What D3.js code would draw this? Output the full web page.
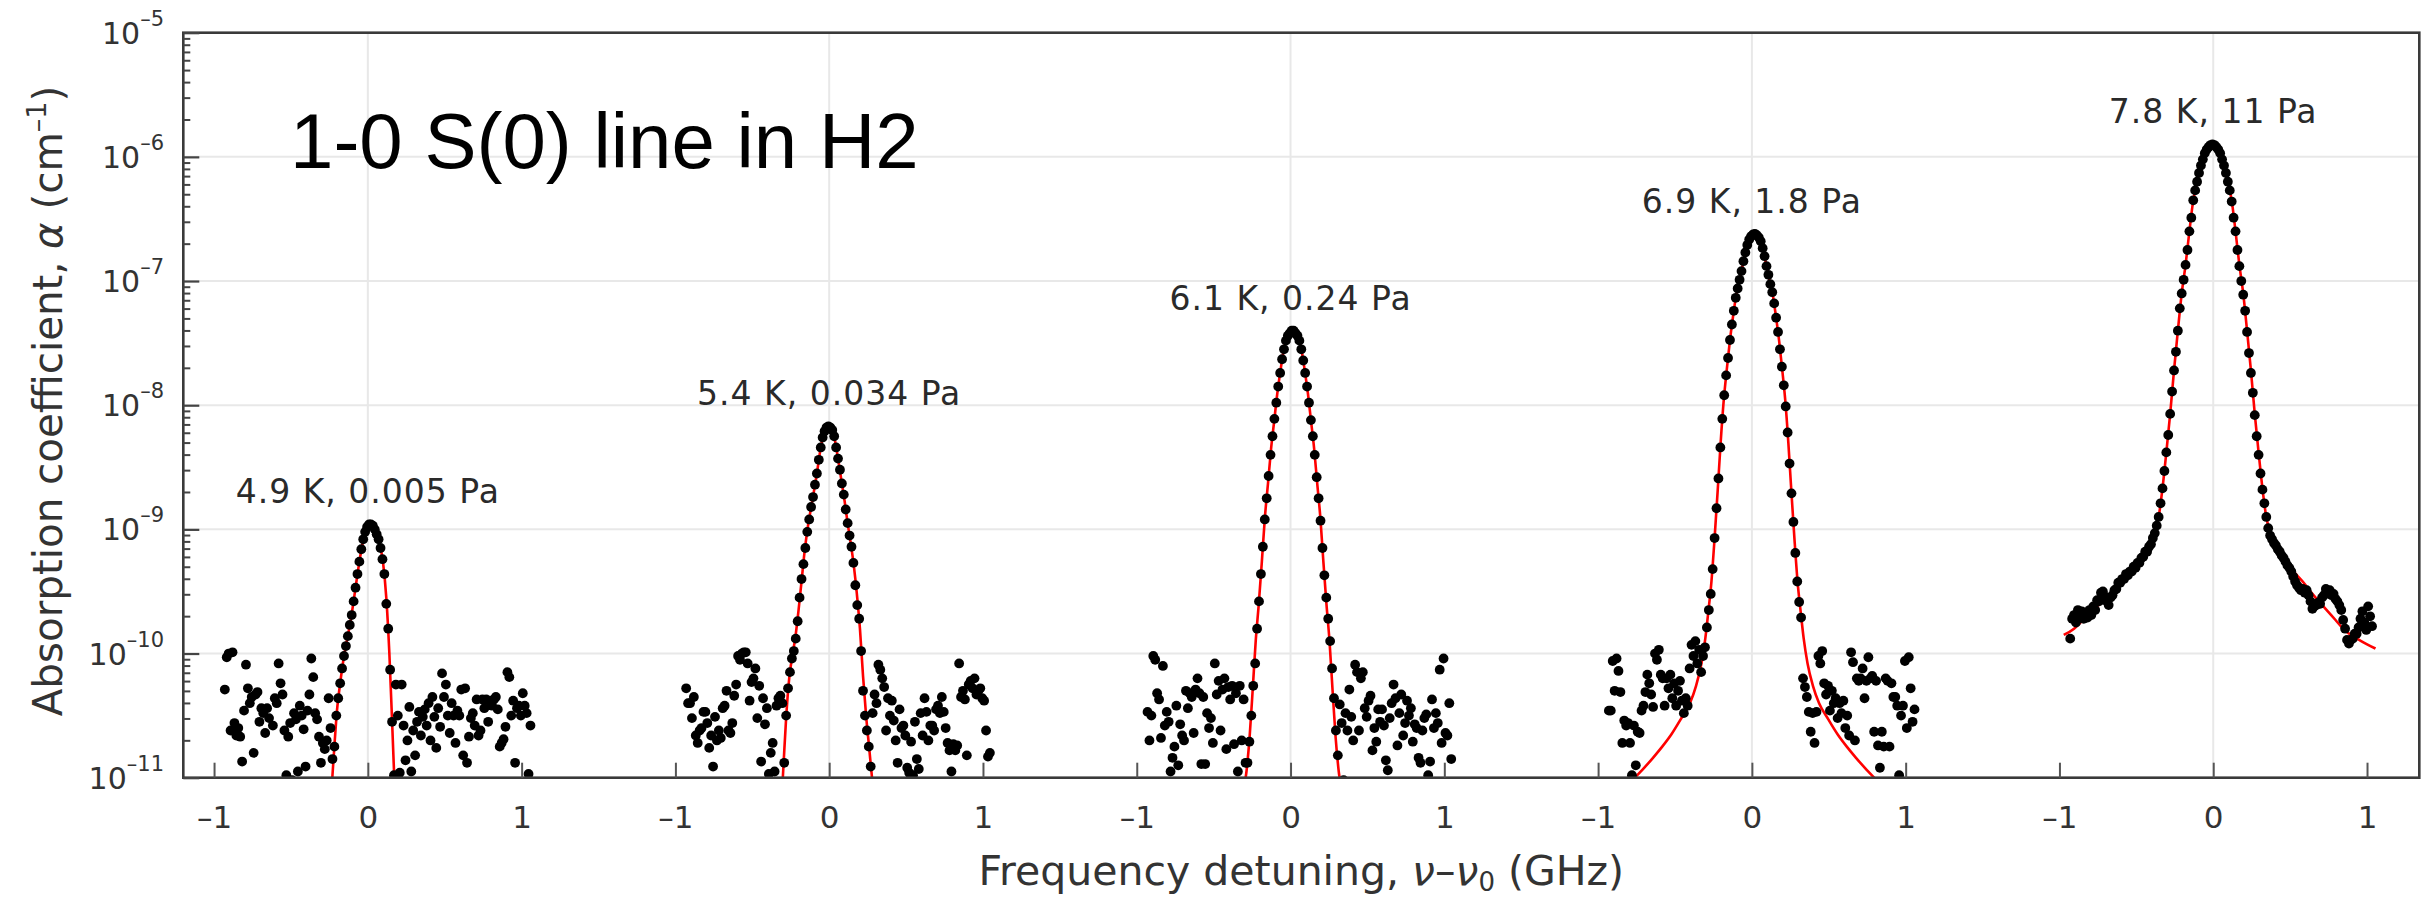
<!DOCTYPE html>
<html>
<head>
<meta charset="utf-8">
<script src="https://cdn.jsdelivr.net/npm/d3@7"></script>
<style>
html,body{margin:0;padding:0;background:#fff;overflow:hidden;}
svg{display:block;}
</style>
</head>
<body>
<svg id="chart" width="2435" height="901"></svg>
<script>
// ---------------- DATA ----------------
const chartTitle = "1-0 S(0) line in H2";
const panelLabels = ["4.9 K, 0.005 Pa", "5.4 K, 0.034 Pa", "6.1 K, 0.24 Pa", "6.9 K, 1.8 Pa", "7.8 K, 11 Pa"];
const panelOffsets = [0, 3, 6, 9, 12];          // GHz shift of each panel on the shared detuning axis
const peakLog10 = [-8.96, -8.17, -7.40, -6.62, -5.90]; // log10 of peak absorption (for label placement)
const detuningStart = -0.93;                     // GHz, first measured point in every panel
const detuningStep = 0.0125;                     // GHz between measured points
const xTickValues = [-1, 0, 1];
const xTickLabels = ["\u20131", "0", "1"];
const yTickExponents = [-11, -10, -9, -8, -7, -6, -5];

// measured absorption coefficient, log10(alpha / cm^-1)
const panel1 = [
-10.29,-10.03,-10.00,-10.62,-9.99,-10.56,-10.66,-10.60,-10.67,-10.87,
-10.46,-10.09,-10.28,-10.40,-10.35,-10.80,-10.33,-10.31,-10.55,-10.44,
-10.48,-10.64,-10.44,-10.52,-11.05,-10.58,-10.36,-10.40,-10.08,-10.24,
-10.33,-10.62,-10.98,-10.67,-10.56,-11.02,-10.48,-10.53,-10.95,-10.42,
-10.50,-10.61,-10.91,-10.46,-10.33,-10.04,-10.19,-10.48,-10.53,-10.67,
-10.88,-10.72,-10.77,-10.70,-10.36,-10.60,-10.85,-10.75,-10.50,-10.36,
-10.24,-10.12,-10.02,-9.94,-9.86,-9.77,-9.69,-9.58,-9.47,-9.36,
-9.26,-9.16,-9.08,-9.02,-8.98,-8.96,-8.96,-8.97,-9.00,-9.04,
-9.08,-9.15,-9.24,-9.36,-9.60,-9.80,-10.13,-10.55,-10.98,-10.25,
-10.50,-10.96,-10.25,-10.58,-10.86,-10.70,-10.43,-10.95,-10.62,-10.82,
-10.55,-10.47,-10.66,-10.51,-10.45,-10.58,-10.40,-10.70,-10.35,-10.51,
-10.76,-10.44,-10.59,-10.16,-10.35,-10.25,-10.50,-10.64,-10.40,-10.50,
-10.72,-10.46,-10.50,-10.29,-10.82,-10.28,-10.88,-10.67,-10.52,-10.48,
-10.58,-10.37,-10.66,-10.62,-10.37,-10.44,-10.37,-10.55,-10.38,-10.42,
-10.37,-10.35,-10.45,-10.75,-10.72,-10.69,-10.59,-10.15,-10.19,-10.50,
-10.38,-10.88,-10.44,-10.42,-10.50,-10.32,-10.42,-10.48,-10.97,-10.58];
const panel2 = [
-10.28,-10.40,-10.40,-10.52,-10.35,-10.66,-10.72,-10.62,-10.60,-10.47,
-10.47,-10.56,-10.76,-10.66,-10.91,-10.51,-10.70,-10.62,-10.68,-10.44,
-10.42,-10.30,-10.62,-10.64,-10.56,-10.34,-10.25,-10.02,-10.05,-10.00,
-9.99,-9.99,-10.08,-10.38,-10.23,-10.20,-10.12,-10.52,-10.26,-10.87,
-10.36,-10.57,-10.44,-10.97,-10.80,-10.72,-10.95,-10.42,-10.36,-10.34,
-10.40,-10.88,-10.50,-10.28,-10.15,-10.04,-9.98,-9.88,-9.74,-9.55,
-9.40,-9.28,-9.15,-9.02,-8.92,-8.82,-8.74,-8.64,-8.55,-8.44,
-8.34,-8.26,-8.21,-8.18,-8.17,-8.18,-8.20,-8.25,-8.34,-8.43,
-8.52,-8.63,-8.72,-8.84,-8.95,-9.05,-9.14,-9.27,-9.45,-9.61,
-9.72,-9.98,-10.30,-10.50,-10.62,-10.75,-10.91,-10.48,-10.33,-10.40,
-10.09,-10.13,-10.20,-10.27,-10.62,-10.36,-10.50,-10.38,-10.54,-10.70,
-10.88,-10.45,-10.60,-10.58,-10.66,-10.92,-10.96,-10.71,-10.98,-10.55,
-10.85,-10.93,-10.48,-10.66,-10.36,-10.47,-10.70,-10.58,-10.58,-10.62,
-10.45,-10.42,-10.48,-10.35,-10.47,-10.60,-10.72,-10.78,-10.95,-10.73,
-10.78,-10.74,-10.08,-10.35,-10.30,-10.37,-10.82,-10.25,-10.22,-10.28,
-10.20,-10.33,-10.30,-10.28,-10.36,-10.38,-10.62,-10.83,-10.80,-11.20];
const panel3 = [
-10.47,-10.70,-10.50,-10.02,-10.05,-10.32,-10.37,-10.68,-10.10,-10.58,
-10.47,-10.55,-10.95,-10.84,-10.75,-10.42,-10.90,-10.57,-10.66,-10.70,
-10.30,-10.44,-10.32,-10.35,-10.64,-10.29,-10.20,-10.32,-10.89,-10.35,
-10.89,-10.48,-10.60,-10.52,-10.72,-10.08,-10.33,-10.22,-10.62,-10.29,
-10.20,-10.77,-10.27,-10.37,-10.26,-10.73,-10.32,-10.95,-10.26,-10.70,
-10.37,-10.88,-10.88,-10.71,-10.50,-10.26,-10.08,-9.80,-9.58,-9.36,
-9.14,-8.92,-8.75,-8.57,-8.40,-8.25,-8.11,-7.98,-7.85,-7.74,
-7.63,-7.55,-7.48,-7.44,-7.42,-7.40,-7.40,-7.42,-7.44,-7.48,
-7.55,-7.64,-7.74,-7.85,-7.98,-8.12,-8.25,-8.40,-8.58,-8.75,
-8.93,-9.15,-9.37,-9.55,-9.72,-9.90,-10.12,-10.36,-10.62,-10.82,
-10.41,-10.56,-11.02,-10.48,-10.62,-10.29,-10.51,-10.70,-10.09,-10.15,
-10.62,-10.20,-10.15,-10.44,-10.51,-10.38,-10.34,-10.78,-10.60,-10.71,
-10.45,-10.55,-10.45,-10.58,-10.86,-10.94,-10.52,-10.40,-10.25,-10.36,
-10.74,-10.48,-10.33,-10.66,-10.56,-10.38,-10.50,-10.44,-10.71,-10.57,
-10.60,-10.84,-10.88,-10.62,-10.52,-10.49,-10.98,-10.87,-10.37,-10.60,
-10.48,-10.56,-10.13,-10.72,-10.04,-10.64,-10.66,-10.40,-10.85,-11.20];
const panel4 = [
-10.46,-10.46,-10.06,-10.30,-10.04,-10.14,-10.31,-10.72,-10.54,-10.58,
-10.56,-10.72,-10.98,-10.58,-10.90,-10.63,-10.64,-10.46,-10.42,-10.31,
-10.17,-10.24,-10.33,-10.43,-10.00,-10.05,-9.97,-10.17,-10.20,-10.42,
-10.20,-10.28,-10.17,-10.36,-10.24,-10.42,-10.30,-10.22,-10.38,-10.48,
-10.36,-10.42,-10.12,-9.93,-10.02,-9.90,-10.08,-9.97,-10.15,-10.02,
-9.95,-9.79,-9.65,-9.52,-9.32,-9.07,-8.83,-8.59,-8.34,-8.11,
-7.92,-7.76,-7.62,-7.475,-7.35,-7.24,-7.135,-7.06,-6.99,-6.92,
-6.84,-6.77,-6.71,-6.665,-6.64,-6.625,-6.62,-6.63,-6.65,-6.68,
-6.735,-6.80,-6.88,-6.95,-7.025,-7.09,-7.18,-7.295,-7.41,-7.55,
-7.69,-7.84,-8.01,-8.22,-8.47,-8.71,-8.94,-9.19,-9.42,-9.585,
-9.71,-10.20,-10.27,-10.35,-10.47,-10.63,-10.48,-10.72,-10.47,-10.02,
-10.08,-9.98,-10.24,-10.33,-10.26,-10.46,-10.30,-10.40,-10.36,-10.52,
-10.40,-10.48,-10.38,-10.60,-10.50,-10.66,-9.99,-10.07,-10.70,-10.20,
-10.22,-10.20,-10.12,-10.36,-10.22,-10.03,-10.20,-10.18,-10.63,-10.22,
-10.74,-10.92,-10.63,-10.75,-10.20,-10.22,-10.75,-10.24,-10.35,-10.35,
-10.42,-10.98,-10.50,-10.42,-10.06,-10.60,-10.03,-10.28,-10.55,-10.45];
const panel5 = [
-9.88,-9.72,-9.69,-9.75,-9.65,-9.70,-9.66,-9.72,-9.67,-9.71,
-9.65,-9.69,-9.62,-9.65,-9.57,-9.58,-9.51,-9.50,-9.54,-9.58,
-9.61,-9.55,-9.53,-9.49,-9.48,-9.43,-9.43,-9.40,-9.40,-9.36,
-9.37,-9.34,-9.34,-9.30,-9.31,-9.27,-9.27,-9.23,-9.22,-9.18,
-9.18,-9.14,-9.12,-9.07,-9.03,-8.97,-8.90,-8.79,-8.67,-8.53,
-8.38,-8.24,-8.07,-7.89,-7.72,-7.57,-7.40,-7.22,-7.10,-6.99,
-6.87,-6.75,-6.60,-6.49,-6.35,-6.27,-6.20,-6.13,-6.07,-6.02,
-5.97,-5.94,-5.92,-5.905,-5.90,-5.905,-5.92,-5.94,-5.97,-6.02,
-6.07,-6.13,-6.20,-6.27,-6.36,-6.49,-6.60,-6.75,-6.88,-7.00,
-7.11,-7.24,-7.41,-7.58,-7.74,-7.90,-8.08,-8.25,-8.40,-8.55,
-8.68,-8.79,-8.90,-8.99,-9.05,-9.08,-9.11,-9.13,-9.16,-9.18,
-9.21,-9.23,-9.26,-9.29,-9.31,-9.34,-9.38,-9.42,-9.45,-9.47,
-9.49,-9.48,-9.51,-9.49,-9.53,-9.58,-9.64,-9.62,-9.61,-9.59,
-9.60,-9.55,-9.53,-9.48,-9.50,-9.49,-9.53,-9.52,-9.56,-9.58,
-9.61,-9.65,-9.73,-9.80,-9.89,-9.92,-9.89,-9.88,-9.84,-9.84,
-9.79,-9.72,-9.66,-9.75,-9.81,-9.62,-9.70,-9.78];

// fitted line profiles: [detuning GHz, log10(alpha)]
const fit1 = [[-0.25,-11.4],[-0.23,-10.98],[-0.215,-10.7],[-0.2,-10.45],[-0.18,-10.24],[-0.16,-10.06],[-0.14,-9.92],[-0.12,-9.79],[-0.1,-9.64],[-0.08,-9.47],[-0.06,-9.30],[-0.04,-9.15],[-0.02,-9.03],[0,-8.97],[0.02,-8.955],[0.04,-8.98],[0.06,-9.04],[0.08,-9.13],[0.1,-9.28],[0.12,-9.55],[0.14,-10.0],[0.16,-10.62],[0.175,-11.1],[0.19,-11.5]];
const fit2 = [[-0.31,-11.2],[-0.295,-10.85],[-0.28,-10.52],[-0.26,-10.2],[-0.24,-10.02],[-0.22,-9.87],[-0.2,-9.66],[-0.18,-9.42],[-0.16,-9.18],[-0.14,-8.99],[-0.12,-8.84],[-0.1,-8.70],[-0.08,-8.55],[-0.06,-8.38],[-0.04,-8.25],[-0.02,-8.19],[0,-8.17],[0.02,-8.20],[0.04,-8.30],[0.06,-8.45],[0.08,-8.61],[0.1,-8.77],[0.12,-8.95],[0.14,-9.11],[0.16,-9.29],[0.18,-9.52],[0.2,-9.80],[0.22,-10.18],[0.24,-10.50],[0.26,-10.76],[0.28,-11.02],[0.3,-11.3]];
const fit3 = [[-0.3165,-11.5],[-0.2965,-11.05],[-0.2865,-10.95],[-0.2665,-10.68],[-0.2465,-10.30],[-0.2265,-9.90],[-0.2065,-9.60],[-0.1865,-9.26],[-0.1665,-8.90],[-0.1465,-8.63],[-0.1265,-8.35],[-0.1065,-8.13],[-0.0865,-7.91],[-0.0665,-7.73],[-0.0465,-7.57],[-0.0265,-7.46],[-0.0065,-7.42],[0.0135,-7.40],[0.0335,-7.42],[0.0535,-7.46],[0.0735,-7.57],[0.0935,-7.73],[0.1135,-7.91],[0.1335,-8.13],[0.1535,-8.35],[0.1735,-8.63],[0.1935,-8.90],[0.2135,-9.26],[0.2335,-9.60],[0.2535,-9.90],[0.2735,-10.30],[0.2935,-10.68],[0.3135,-10.95],[0.3235,-11.05],[0.3435,-11.5]];
const fit4 = [[-0.883,-11.14],[-0.753,-10.99],[-0.643,-10.84],[-0.583,-10.75],[-0.523,-10.65],[-0.463,-10.53],[-0.403,-10.40],[-0.363,-10.26],[-0.328,-10.08],[-0.303,-9.88],[-0.283,-9.66],[-0.263,-9.42],[-0.243,-9.08],[-0.223,-8.70],[-0.203,-8.30],[-0.183,-7.96],[-0.163,-7.71],[-0.143,-7.48],[-0.123,-7.29],[-0.103,-7.12],[-0.083,-7.01],[-0.063,-6.89],[-0.043,-6.775],[-0.023,-6.68],[-0.003,-6.635],[0.017,-6.62],[0.037,-6.635],[0.057,-6.68],[0.077,-6.775],[0.097,-6.89],[0.117,-7.01],[0.137,-7.12],[0.157,-7.29],[0.177,-7.48],[0.197,-7.71],[0.217,-7.96],[0.237,-8.30],[0.257,-8.70],[0.277,-9.08],[0.297,-9.42],[0.317,-9.66],[0.337,-9.88],[0.362,-10.08],[0.397,-10.26],[0.437,-10.40],[0.497,-10.53],[0.557,-10.65],[0.617,-10.75],[0.677,-10.84],[0.787,-10.99],[0.917,-11.14]];
const fit5 = [[-0.972,-9.85],[-0.905,-9.80],[-0.855,-9.74],[-0.805,-9.68],[-0.755,-9.62],[-0.705,-9.57],[-0.655,-9.51],[-0.605,-9.44],[-0.555,-9.37],[-0.505,-9.30],[-0.455,-9.21],[-0.405,-9.10],[-0.38,-9.02],[-0.355,-8.90],[-0.33,-8.67],[-0.305,-8.38],[-0.28,-8.07],[-0.255,-7.72],[-0.23,-7.40],[-0.205,-7.10],[-0.18,-6.87],[-0.155,-6.60],[-0.13,-6.35],[-0.105,-6.20],[-0.08,-6.07],[-0.055,-5.97],[-0.03,-5.92],[-0.005,-5.90],[0.02,-5.92],[0.045,-5.97],[0.07,-6.07],[0.095,-6.20],[0.12,-6.35],[0.145,-6.60],[0.17,-6.87],[0.195,-7.10],[0.22,-7.40],[0.245,-7.72],[0.27,-8.07],[0.295,-8.38],[0.32,-8.67],[0.345,-8.90],[0.37,-9.02],[0.395,-9.10],[0.445,-9.21],[0.495,-9.30],[0.545,-9.37],[0.595,-9.44],[0.645,-9.52],[0.695,-9.59],[0.745,-9.66],[0.795,-9.73],[0.845,-9.80],[0.895,-9.85],[0.962,-9.90],[1.055,-9.96]];

const panelValues = [panel1, panel2, panel3, panel4, panel5];
const panelFits = [fit1, fit2, fit3, fit4, fit5];

// ---------------- DRAWING ----------------
const W = 2435, H = 901;
const plot = {left: 183.3, right: 2419.3, top: 32.7, bottom: 777.7};
const FONT = "'DejaVu Sans', 'Noto Sans', sans-serif";

const x = d3.scaleLinear().domain([-1.2, 13.34]).range([plot.left, plot.right]);
const y = d3.scaleLog().domain([1e-11, 1e-5]).range([plot.bottom, plot.top]);

const svg = d3.select("#chart");
svg.append("rect").attr("width", W).attr("height", H).attr("fill", "#fff");

// gridlines
const grid = svg.append("g");
grid.selectAll("line.h").data(yTickExponents.slice(1, -1)).join("line")
  .attr("x1", plot.left).attr("x2", plot.right)
  .attr("y1", d => y(Math.pow(10, d))).attr("y2", d => y(Math.pow(10, d)))
  .attr("stroke", "#e8e8e8").attr("stroke-width", 2);
grid.selectAll("line.v").data(panelOffsets).join("line")
  .attr("x1", d => x(d)).attr("x2", d => x(d))
  .attr("y1", plot.top).attr("y2", plot.bottom)
  .attr("stroke", "#e8e8e8").attr("stroke-width", 2);

// clip
svg.append("defs").append("clipPath").attr("id", "clip")
  .append("rect").attr("x", plot.left).attr("y", plot.top)
  .attr("width", plot.right - plot.left).attr("height", plot.bottom - plot.top);
const dataG = svg.append("g").attr("clip-path", "url(#clip)");

// fitted curves
const line = d3.line().curve(d3.curveMonotoneX);
panelFits.forEach((fit, k) => {
  dataG.append("path")
    .attr("d", line(fit.map(d => [x(panelOffsets[k] + d[0]), y(Math.pow(10, d[1]))])))
    .attr("fill", "none").attr("stroke", "#ff0000").attr("stroke-width", 2.6);
});

// measured points
panelValues.forEach((vals, k) => {
  dataG.append("g").selectAll("circle").data(vals).join("circle")
    .attr("cx", (v, i) => x(panelOffsets[k] + detuningStart + i * detuningStep))
    .attr("cy", v => y(Math.pow(10, v)))
    .attr("r", 4.9).attr("fill", "#000");
});

// frame
svg.append("rect").attr("x", plot.left).attr("y", plot.top)
  .attr("width", plot.right - plot.left).attr("height", plot.bottom - plot.top)
  .attr("fill", "none").attr("stroke", "#3a3a3a").attr("stroke-width", 2.6);

// x axis
const xTicksAll = panelOffsets.flatMap(o => xTickValues.map(t => o + t));
const xAxis = d3.axisBottom(x).tickValues(xTicksAll)
  .tickSizeInner(-15).tickSizeOuter(0).tickPadding(28)
  .tickFormat((d, i) => xTickLabels[i % xTickValues.length]);
const gx = svg.append("g").attr("transform", `translate(0,${plot.bottom})`).call(xAxis);
gx.select(".domain").remove();
gx.selectAll(".tick line").attr("stroke", "#555").attr("stroke-width", 2);
gx.selectAll(".tick text").attr("font-size", 31).attr("font-family", FONT).attr("fill", "#333");

// y axis (major + minor ticks)
const majorVals = yTickExponents.map(e => Math.pow(10, e));
const minorVals = [];
yTickExponents.slice(0, -1).forEach(e => { for (let m = 2; m <= 9; m++) minorVals.push(m * Math.pow(10, e)); });
const gyMinor = svg.append("g").attr("transform", `translate(${plot.left},0)`)
  .call(d3.axisLeft(y).tickValues(minorVals).tickSizeInner(-7).tickSizeOuter(0).tickFormat(""));
gyMinor.select(".domain").remove();
gyMinor.selectAll(".tick line").attr("stroke", "#444").attr("stroke-width", 2);
const gyMajor = svg.append("g").attr("transform", `translate(${plot.left},0)`)
  .call(d3.axisLeft(y).tickValues(majorVals).tickSizeInner(-16).tickSizeOuter(0).tickFormat(""));
gyMajor.select(".domain").remove();
gyMajor.selectAll(".tick line").attr("stroke", "#444").attr("stroke-width", 2.2);

// y tick labels 10^n
yTickExponents.forEach(e => {
  const t = svg.append("text").attr("x", 164).attr("y", y(Math.pow(10, e)) + 11)
    .attr("text-anchor", "end").attr("font-family", FONT).attr("font-size", 30).attr("fill", "#333");
  t.append("tspan").text("10");
  t.append("tspan").attr("dy", -18).attr("font-size", 21).text("\u2013" + Math.abs(e));
});

// axis titles
const yt = svg.append("text").attr("transform", "translate(62,401) rotate(-90)")
  .attr("text-anchor", "middle").attr("font-family", FONT).attr("font-size", 41).attr("fill", "#333");
yt.append("tspan").text("Absorption coefficient, ");
yt.append("tspan").attr("font-style", "italic").text("\u03b1");
yt.append("tspan").text(" (cm");
yt.append("tspan").attr("font-size", 27).attr("dy", -16).text("\u20131");
yt.append("tspan").attr("dy", 16).text(")");
// fit the title to the length it has in the figure
const ytLen = yt.node().getComputedTextLength();
if (ytLen > 0) yt.attr("font-size", 41 * 630 / ytLen);

const xt = svg.append("text").attr("x", (plot.left + plot.right) / 2).attr("y", 885)
  .attr("text-anchor", "middle").attr("font-family", FONT).attr("font-size", 41).attr("fill", "#333");
xt.append("tspan").text("Frequency detuning, ");
xt.append("tspan").attr("font-style", "italic").text("\u03bd");
xt.append("tspan").text("\u2013");
xt.append("tspan").attr("font-style", "italic").text("\u03bd");
xt.append("tspan").attr("font-size", 26).attr("dy", 6).text("0");
xt.append("tspan").attr("dy", -6).text(" (GHz)");

// panel annotations
svg.selectAll("text.ann").data(panelLabels).join("text").attr("class", "ann")
  .attr("x", (d, k) => x(panelOffsets[k]))
  .attr("y", (d, k) => y(Math.pow(10, peakLog10[k])) - 21)
  .attr("text-anchor", "middle").attr("font-family", FONT).attr("font-size", 33)
  .attr("letter-spacing", 1).attr("fill", "#2a2a2a")
  .text(d => d);

// title
svg.append("text").attr("x", 290).attr("y", 168)
  .attr("font-family", "'Liberation Sans', Arial, sans-serif").attr("font-size", 78).attr("fill", "#000")
  .text(chartTitle);
</script>
</body>
</html>
